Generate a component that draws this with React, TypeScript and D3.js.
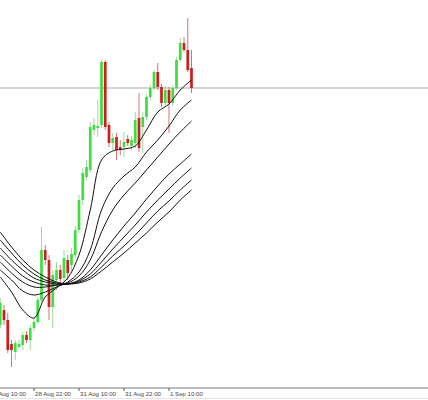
import React from "react";
import * as d3 from "d3";

// ---- Candle data (H1 bars) ----
const opens = [1.1075,1.1090,1.1080,1.1056,1.1048,1.1053,1.1055,1.1065,1.1060,1.1072,1.1078,1.1100,1.1150,1.1140,1.1093,1.1120,1.1130,1.1122,1.1140,1.1135,1.1145,1.1170,1.1200,1.1223,1.1230,1.1270,1.1272,1.1275,1.1338,1.1275,1.1257,1.1263,1.1253,1.1253,1.1261,1.1254,1.1257,1.1282,1.1273,1.1283,1.1303,1.1312,1.1328,1.1313,1.1297,1.1310,1.1297,1.1312,1.1340,1.1357,1.1350,1.1332];
const highs = [1.1102,1.1095,1.1087,1.1060,1.1060,1.1060,1.1068,1.1069,1.1075,1.1082,1.1103,1.1173,1.1155,1.1145,1.1130,1.1138,1.1135,1.1150,1.1145,1.1152,1.1174,1.1205,1.1232,1.1240,1.1278,1.1282,1.1300,1.1340,1.1340,1.1278,1.1267,1.1267,1.1260,1.1268,1.1265,1.1264,1.1288,1.1307,1.1288,1.1306,1.1315,1.1330,1.1337,1.1316,1.1314,1.1313,1.1315,1.1343,1.1362,1.1363,1.1382,1.1350];
const lows = [1.1072,1.1075,1.1047,1.1033,1.1040,1.1051,1.1050,1.1057,1.1050,1.1069,1.1076,1.1098,1.1135,1.1080,1.1072,1.1110,1.1115,1.1115,1.1120,1.1130,1.1142,1.1167,1.1195,1.1220,1.1227,1.1265,1.1263,1.1272,1.1270,1.1253,1.1250,1.1240,1.1245,1.1243,1.1254,1.1250,1.1252,1.1248,1.1247,1.1280,1.1300,1.1310,1.1310,1.1293,1.1294,1.1267,1.1294,1.1310,1.1338,1.1348,1.1328,1.1307];
const closes = [1.1097,1.1080,1.1050,1.1050,1.1057,1.1056,1.1065,1.1060,1.1072,1.1078,1.1100,1.1150,1.1140,1.1093,1.1125,1.1130,1.1121,1.1142,1.1127,1.1146,1.1170,1.1200,1.1227,1.1233,1.1273,1.1275,1.1274,1.1338,1.1273,1.1257,1.1262,1.1250,1.1250,1.1258,1.1257,1.1260,1.1280,1.1252,1.1283,1.1303,1.1312,1.1328,1.1313,1.1297,1.1310,1.1297,1.1312,1.1340,1.1357,1.1350,1.1330,1.1312];

// ---- Moving averages, sampled every 3 bars ----
const maBars = [0,3,6,9,12,15,18,21,24,27,30,33,36,39,42,45,48,51];
const ma1 = [1.1123,1.1108,1.1090,1.1082,1.1103,1.1112,1.1122,1.1145,1.1190,1.1240,1.1249,1.1251,1.1254,1.1270,1.1288,1.1296,1.1310,1.1320];
const ma2 = [1.1130,1.1120,1.1109,1.1105,1.1108,1.1113,1.1118,1.1128,1.1150,1.1190,1.1212,1.1224,1.1233,1.1248,1.1260,1.1274,1.1290,1.1300];
const ma3 = [1.1138,1.1127,1.1118,1.1113,1.1113,1.1115,1.1117,1.1124,1.1140,1.1168,1.1190,1.1205,1.1217,1.1230,1.1243,1.1256,1.1268,1.1279];
const ma4 = [1.1145,1.1134,1.1124,1.1118,1.1115,1.1115,1.1116,1.1120,1.1130,1.1145,1.1160,1.1174,1.1187,1.1201,1.1214,1.1226,1.1236,1.1246];
const ma5 = [1.1152,1.1140,1.1130,1.1122,1.1118,1.1116,1.1116,1.1119,1.1126,1.1138,1.1151,1.1163,1.1175,1.1188,1.1200,1.1211,1.1222,1.1232];
const ma6 = [1.1160,1.1147,1.1135,1.1126,1.1120,1.1117,1.1116,1.1118,1.1123,1.1133,1.1144,1.1154,1.1165,1.1177,1.1189,1.1199,1.1210,1.1220];
const ma7 = [1.1168,1.1153,1.1140,1.1130,1.1123,1.1118,1.1116,1.1117,1.1121,1.1129,1.1138,1.1147,1.1157,1.1167,1.1178,1.1188,1.1200,1.1210];
const maSeries = [ma1, ma2, ma3, ma4, ma5, ma6, ma7];

// ---- Time axis ----
const tickBars = [-3, 9, 21, 33, 45];
const tickLabels = ["28 Aug 10:00", "28 Aug 22:00", "31 Aug 10:00", "31 Aug 22:00", "1 Sep 10:00"];

const bidPrice = 1.1312;

const W = 428;
const H = 400;

export default function App() {
  const x = d3.scaleLinear().domain([0, 51]).range([0.25, 191.5]);
  const y = d3.scaleLinear().domain([1.1, 1.14]).range([400, 0]);
  const bodyW = 2.7;
  const axisY = 388;

  const line = d3
    .line<number>()
    .x((_, i) => x(maBars[i]))
    .y((d) => y(d))
    .curve(d3.curveCatmullRom.alpha(0.5));

  return (
    <svg
      width={W}
      height={H}
      style={{ position: "fixed", left: 0, top: 0, background: "#fff" }}
    >
      <rect x={0} y={0} width={W} height={H} fill="#fff" />
      {/* bid line */}
      <line x1={0} x2={W} y1={y(bidPrice)} y2={y(bidPrice)} stroke="#a8a8a8" strokeWidth={1} />
      {/* candles */}
      {opens.map((o, i) => {
        const c = closes[i];
        const up = c >= o;
        const col = up ? "#3ede3e" : "#cc1e1e";
        const wick = up ? "#9ed89e" : "#d87070";
        const cx = x(i);
        const top = y(Math.max(o, c));
        const bot = y(Math.min(o, c));
        return (
          <g key={i}>
            <line x1={cx} x2={cx} y1={y(highs[i])} y2={y(lows[i])} stroke={wick} strokeWidth={1} />
            <rect x={cx - bodyW / 2} y={top} width={bodyW} height={Math.max(1, bot - top)} fill={col} />
          </g>
        );
      })}
      {/* moving averages */}
      {maSeries.map((s, k) => (
        <path key={k} d={line(s) || ""} fill="none" stroke="#111" strokeWidth={1} />
      ))}
      {/* x axis */}
      <line x1={0} x2={W} y1={axisY} y2={axisY} stroke="#7a7a7a" strokeWidth={1.2} />
      <line x1={0} x2={W} y1={398.5} y2={398.5} stroke="#e4e4e4" strokeWidth={1} />
      {tickBars.map((b, i) => (
        <g key={i}>
          <line x1={x(b)} x2={x(b)} y1={axisY} y2={axisY + 3} stroke="#555" strokeWidth={1} />
          <text
            x={x(b) + 1}
            y={396}
            fontFamily="'Liberation Sans', Arial, sans-serif"
            fontSize={6.1}
            fill="#444"
          >
            {tickLabels[i]}
          </text>
        </g>
      ))}
    </svg>
  );
}
